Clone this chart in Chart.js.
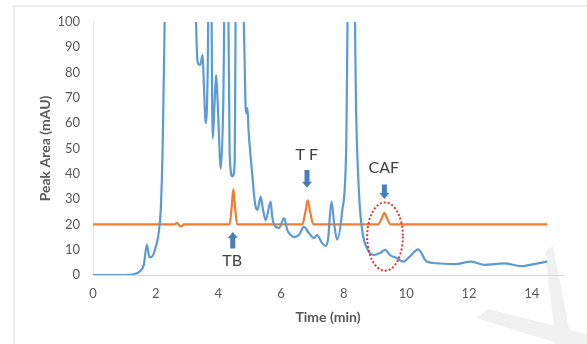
<!DOCTYPE html>
<html>
<head>
<meta charset="utf-8">
<script src="https://cdn.jsdelivr.net/npm/chart.js@4/dist/chart.umd.min.js"></script>
<style>
  html, body { margin: 0; padding: 0; background: #fff; }
  #wrap { position: relative; width: 587px; height: 344px; overflow: hidden; }
  #frame { position: absolute; left: 13px; top: 5px; right: -2px; bottom: -2px; border: 2px solid #ececec; }
  canvas { position: absolute; left: 0; top: 0; }
</style>
</head>
<body>
<div id="wrap">
  <div id="frame"></div>
  <canvas id="chart" width="587" height="344"></canvas>
</div>
<script>
'use strict';

// sample chromatogram (blue)
const sampleTime = [0, 0.5, 1.0, 1.3, 1.5, 1.62, 1.72, 1.8, 1.9, 2.0, 2.1, 2.17, 2.23, 2.28, 2.32,
  3.25, 3.29, 3.34, 3.42, 3.5, 3.53, 3.6, 3.66, 3.7, 3.76, 3.82, 3.88, 3.93, 3.98, 4.08, 4.16, 4.22,
  4.3, 4.36, 4.45, 4.52, 4.57, 4.75, 4.83, 4.88, 4.93, 4.96, 5.04, 5.09, 5.14, 5.2, 5.25, 5.35, 5.41,
  5.51, 5.67, 5.72, 5.83, 5.94, 6.1, 6.2, 6.31, 6.41, 6.57, 6.73, 6.89, 7.05, 7.15, 7.31, 7.42, 7.5,
  7.61, 7.7, 7.79, 7.95, 8.08, 8.15, 8.33, 8.4, 8.5, 8.6, 8.74, 8.95, 9.16, 9.32, 9.48, 9.69, 9.9,
  10.1, 10.38, 10.65, 11.0, 11.55, 12.07, 12.5, 13.13, 13.66, 14.08, 14.5];
const sampleSignal = [0, 0, 0, 0.3, 1.5, 4, 12, 7, 7.5, 11, 17, 28, 55, 95, 130,
  130, 100, 84, 83, 87, 78, 60, 80, 130, 130, 54, 68, 79, 68, 42, 70, 130,
  130, 48, 39, 44, 130, 130, 90, 64, 66, 58, 45.5, 38.7, 31.6, 26.5, 25.7, 31, 27,
  21.7, 29, 23, 19, 18.6, 22.5, 17.8, 15.8, 15, 15.8, 19, 16.6, 14.6, 15.8, 12.6, 11.5, 14,
  29, 20, 14, 25, 50, 120, 120, 63, 30, 17, 10.7, 7.9, 8.7, 9.9, 7.9, 6.7, 5.3,
  7.2, 10.1, 5.3, 4.6, 4.3, 5.3, 4, 4.6, 3.5, 4.3, 5.3];

// standards trace (orange), offset at 20
const stdTime = [0, 2.6, 2.68, 2.75, 2.82, 2.9, 4.36, 4.42, 4.48, 4.54, 4.6, 6.68, 6.78, 6.85, 6.93,
  7.03, 9.1, 9.22, 9.3, 9.38, 9.5, 14.5];
const stdSignal = [20, 20, 20.6, 19.6, 19.2, 20, 20, 26, 34, 26, 20, 20, 25, 29.5, 25,
  20, 20, 22.5, 24.6, 22.5, 20, 20];

// peak labels and arrows (data units)
const peakNames = ['TB', 'T F', 'CAF'];
const peakLabelX = [4.44, 6.82, 9.28];
const peakLabelY = [5.5, 47.5, 42.5];
const arrowX = [4.46, 6.83, 9.3];
const arrowTail = [10.5, 41.5, 35.8];
const arrowTip = [17, 34.5, 30];

// dotted ring around CAF
const ringCenter = [9.32, 15.2];
const ringRadius = [0.57, 13.5];

const FONT = 'Lato, "Open Sans", sans-serif';

function toPoints(xs, ys) {
    return xs.map((x, i) => ({ x: x, y: ys[i] }));
}

function blockArrow(ctx, x, yTail, yTip) {
    const dir = yTip < yTail ? -1 : 1;
    const head = 6;
    ctx.beginPath();
    ctx.moveTo(x - 2.5, yTail);
    ctx.lineTo(x - 2.5, yTip - dir * head);
    ctx.lineTo(x - 5, yTip - dir * head);
    ctx.lineTo(x, yTip);
    ctx.lineTo(x + 5, yTip - dir * head);
    ctx.lineTo(x + 2.5, yTip - dir * head);
    ctx.lineTo(x + 2.5, yTail);
    ctx.closePath();
    ctx.fill();
}

const decorPlugin = {
    id: 'decor',
    beforeDraw(chart) {
        // faint watermark in the lower right corner
        const ctx = chart.ctx;
        ctx.save();
        ctx.fillStyle = '#f1f1f1';
        ctx.beginPath();
        ctx.moveTo(545, 252); ctx.lineTo(553, 246); ctx.lineTo(572, 344); ctx.lineTo(556, 344);
        ctx.closePath(); ctx.fill();
        ctx.beginPath();
        ctx.moveTo(476, 318); ctx.lineTo(488, 309); ctx.lineTo(587, 334); ctx.lineTo(587, 344); ctx.lineTo(560, 344);
        ctx.closePath(); ctx.fill();
        ctx.restore();
    },
    afterDatasetsDraw(chart) {
        const ctx = chart.ctx;
        const xs = chart.scales.x;
        const ys = chart.scales.y;
        ctx.save();

        // red dotted ellipse
        ctx.strokeStyle = '#d93a35';
        ctx.lineWidth = 2;
        ctx.setLineDash([2, 2]);
        const cx = xs.getPixelForValue(ringCenter[0]);
        const cy = ys.getPixelForValue(ringCenter[1]);
        const rx = xs.getPixelForValue(ringCenter[0] + ringRadius[0]) - cx;
        const ry = cy - ys.getPixelForValue(ringCenter[1] + ringRadius[1]);
        ctx.beginPath();
        ctx.ellipse(cx, cy, rx, ry, 0, 0, Math.PI * 2);
        ctx.stroke();
        ctx.setLineDash([]);

        // arrows
        ctx.fillStyle = '#4a7ebb';
        for (let i = 0; i < arrowX.length; i++) {
            blockArrow(ctx, xs.getPixelForValue(arrowX[i]),
                ys.getPixelForValue(arrowTail[i]), ys.getPixelForValue(arrowTip[i]));
        }

        // labels
        ctx.fillStyle = '#404040';
        ctx.font = '16px ' + FONT;
        ctx.textAlign = 'center';
        ctx.textBaseline = 'middle';
        for (let i = 0; i < peakNames.length; i++) {
            ctx.fillText(peakNames[i], xs.getPixelForValue(peakLabelX[i]), ys.getPixelForValue(peakLabelY[i]));
        }
        ctx.restore();
    }
};

new Chart(document.getElementById('chart').getContext('2d'), {
    type: 'line',
    data: {
        datasets: [
            { label: 'Sample', data: toPoints(sampleTime, sampleSignal), borderColor: '#5b9bd5', borderWidth: 2.2, pointRadius: 0, cubicInterpolationMode: 'monotone' },
            { label: 'Standards', data: toPoints(stdTime, stdSignal), borderColor: '#ed7d31', borderWidth: 2.2, pointRadius: 0, cubicInterpolationMode: 'monotone' }
        ]
    },
    options: {
        responsive: false,
        animation: false,
        layout: { padding: { left: 0, right: 24, top: 22, bottom: 0 } },
        plugins: { legend: { display: false }, tooltip: { enabled: false } },
        scales: {
            x: {
                type: 'linear', min: 0, max: 15,
                grid: { display: false, drawTicks: false },
                border: { display: true, color: '#d9d9d9', width: 1 },
                ticks: { stepSize: 2, includeBounds: false, padding: 11, color: '#595959', font: { family: FONT, size: 13 } },
                title: { display: true, text: 'Time (min)', color: '#595959', font: { family: FONT, size: 14, weight: 'bold' }, padding: { top: 0, bottom: 18 } },
                afterFit: (axis) => { axis.height = 69; }
            },
            y: {
                min: 0, max: 100,
                grid: { display: false, drawTicks: false },
                border: { display: true, color: '#e6e6e6', width: 1 },
                ticks: { stepSize: 10, padding: 13, color: '#595959', font: { family: FONT, size: 13 } },
                title: { display: true, text: 'Peak Area (mAU)', color: '#595959', font: { family: FONT, size: 14, weight: 'bold' }, padding: { top: 37, bottom: 0 } },
                afterFit: (axis) => { axis.width = 93; }
            }
        }
    },
    plugins: [decorPlugin]
});
</script>
</body>
</html>
